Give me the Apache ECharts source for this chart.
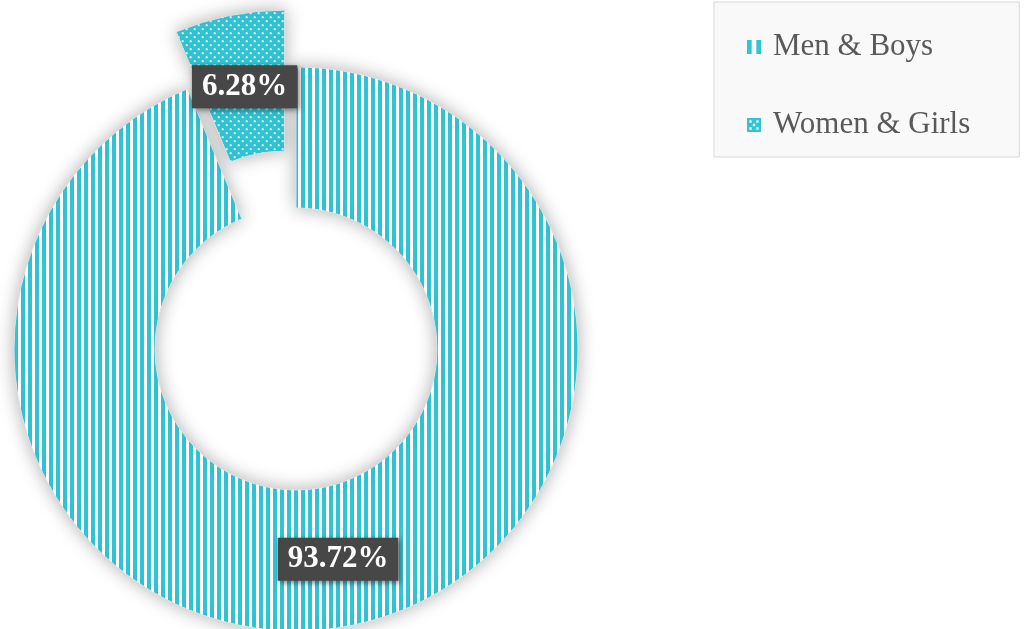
<!DOCTYPE html>
<html lang="en">
<head>
    <meta charset="utf-8" />
    <style>
        html, body { margin: 0; padding: 0; background: #fff; overflow: hidden; }
        .box { width: 1027px; height: 629px; }
    </style>
</head>
<body>
    <div class="box"></div>
    <script src="https://cdn.jsdelivr.net/npm/echarts@6/dist/echarts.min.js"></script>
    <script>
// data
var categories = ['Men & Boys', 'Women & Girls'];
var shares = [93.72, 6.28];
var exploded = [false, true];

var cyan = '#31c4d5';

// vertical stripes
function stripePattern() {
    var c = document.createElement('canvas');
    c.width = 7; c.height = 7;
    var ctx = c.getContext('2d');
    ctx.fillStyle = cyan;
    ctx.fillRect(0, 0, 7, 7);
    ctx.fillStyle = '#ffffff';
    ctx.fillRect(4, 0, 3, 7);
    return c;
}

// small white dots
function dotPattern() {
    var c = document.createElement('canvas');
    c.width = 8; c.height = 8;
    var ctx = c.getContext('2d');
    ctx.fillStyle = cyan;
    ctx.fillRect(0, 0, 8, 8);
    ctx.fillStyle = 'rgba(255,255,255,0.85)';
    ctx.fillRect(1, 1, 2, 2);
    ctx.fillRect(5, 5, 2, 2);
    return c;
}

var patterns = [stripePattern(), dotPattern()];

// legend swatches: two bars / a square with holes
var legendIcons = [
    'path://M0,0h4v12h-4z M8,0h4v12h-4z',
    'path://M0,0h12v12h-12z M2,2v2h2v-2z M8,2v2h2v-2z M5,5v2h2v-2z M2,8v2h2v-2z M8,8v2h2v-2z'
];

var myChart = echarts.init(document.querySelector('.box'), null, { renderer: 'canvas' });

var pieData = categories.map(function (name, i) {
    return {
        name: name,
        value: shares[i],
        selected: exploded[i],
        itemStyle: { color: { image: patterns[i], repeat: 'repeat' } }
    };
});

var legendData = categories.map(function (name, i) {
    return { name: name, icon: legendIcons[i], itemStyle: { color: cyan, borderWidth: 0, shadowBlur: 0 } };
});

var option = {
    backgroundColor: '#ffffff',
    animation: false,
    legend: {
        orient: 'vertical',
        left: 714,
        top: 2,
        padding: [27, 49, 14, 33],
        itemWidth: 16,
        itemHeight: 14,
        itemGap: 42,
        backgroundColor: '#f9f9f9',
        borderColor: '#d9d9d9',
        borderWidth: 1,
        selectedMode: false,
        textStyle: {
            fontFamily: 'Liberation Serif',
            fontSize: 31,
            color: '#595959',
            lineHeight: 36,
            padding: [0, 0, 0, 6]
        },
        data: legendData
    },
    series: [{
        type: 'pie',
        center: [296, 349],
        radius: [141, 282],
        startAngle: 90,
        selectedMode: 'single',
        selectedOffset: 58,
        avoidLabelOverlap: false,
        emphasis: { disabled: true },
        itemStyle: {
            borderColor: '#e2e2e2',
            borderWidth: 1,
            shadowBlur: 18,
            shadowColor: 'rgba(0,0,0,0.3)'
        },
        label: {
            show: true,
            position: 'inside',
            formatter: '{d}%',
            fontFamily: 'Liberation Serif',
            fontWeight: 'bold',
            fontSize: 31,
            color: '#ffffff',
            backgroundColor: '#474747',
            padding: [7, 10, 5, 10],
            shadowBlur: 6,
            shadowColor: 'rgba(0,0,0,0.5)',
            shadowOffsetX: 2,
            shadowOffsetY: 2
        },
        // the pulled-out slice label sits a bit lower
        labelLayout: function (params) {
            if (exploded[params.dataIndex]) return { dx: 2, dy: 5 };
            return {};
        },
        labelLine: { show: false },
        data: pieData
    }]
};

myChart.setOption(option);
    </script>
</body>
</html>
